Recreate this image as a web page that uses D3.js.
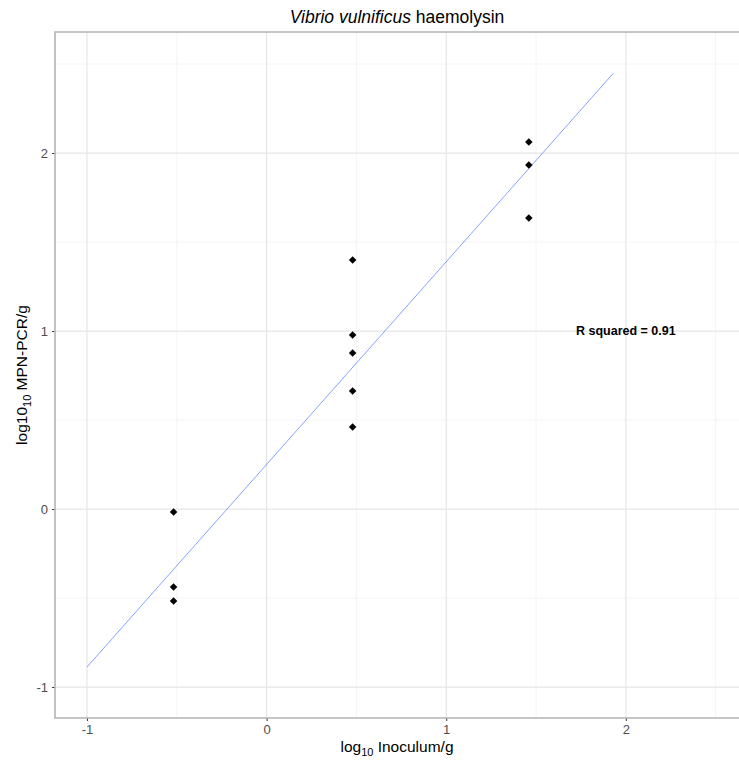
<!doctype html>
<html>
<head>
<meta charset="utf-8">
<title>Vibrio vulnificus haemolysin</title>
<script src="https://d3js.org/d3.v7.min.js"></script>
<style>
body { margin: 0; background: white; }
svg { display: block; font-family: "Liberation Sans", Arial, sans-serif; }
</style>
</head>
<body>
<div id="chart"></div>
<script>
// log10 inoculum per sample
var inoculum = [-0.518, -0.518, -0.518,
  0.479, 0.479, 0.479, 0.479, 0.479,
  1.46, 1.46, 1.46];
// log10 MPN-PCR per sample
var mpn = [-0.017, -0.438, -0.517,
  1.399, 0.978, 0.876, 0.663, 0.461,
  2.062, 1.933, 1.635];
// fitted line end points
var fitX = [-1, 1.931];
var fitY = [-0.888, 2.449];
var majorTicks = [-1, 0, 1, 2];
var minorTicks = [-0.5, 0.5, 1.5, 2.5];
var rsqLabel = "R squared = 0.91";

var W = 739, H = 760;
var margin = { top: 32, right: 0, bottom: 42, left: 55 };
var width = W - margin.left - margin.right,
    height = H - margin.top - margin.bottom;

var svg = d3.select("#chart").append("svg")
  .attr("width", W).attr("height", H);

var g = svg.append("g")
  .attr("transform", "translate(" + margin.left + "," + margin.top + ")");

var x = d3.scaleLinear().domain([-1.178, 2.63]).range([0, width]);
var y = d3.scaleLinear().domain([-1.174, 2.68]).range([height, 0]);

// minor grid
g.selectAll(".mx").data(minorTicks).enter().append("line")
  .attr("x1", d => x(d)).attr("x2", d => x(d))
  .attr("y1", 0).attr("y2", height)
  .attr("stroke", "#f4f4f4").attr("stroke-width", 1);
g.selectAll(".my").data(minorTicks).enter().append("line")
  .attr("y1", d => y(d)).attr("y2", d => y(d))
  .attr("x1", 0).attr("x2", width)
  .attr("stroke", "#f4f4f4").attr("stroke-width", 1);
// major grid
g.selectAll(".gx").data(majorTicks).enter().append("line")
  .attr("x1", d => x(d)).attr("x2", d => x(d))
  .attr("y1", 0).attr("y2", height)
  .attr("stroke", "#e6e6e6").attr("stroke-width", 1.2);
g.selectAll(".gy").data(majorTicks).enter().append("line")
  .attr("y1", d => y(d)).attr("y2", d => y(d))
  .attr("x1", 0).attr("x2", width)
  .attr("stroke", "#e6e6e6").attr("stroke-width", 1.2);

// axes (plain hyphen minus like the original)
var fmt = d => String(d);
var xAxis = g.append("g")
  .attr("transform", "translate(0," + height + ")")
  .call(d3.axisBottom(x).tickValues(majorTicks).tickSize(3).tickPadding(4).tickFormat(fmt));
var yAxis = g.append("g")
  .call(d3.axisLeft(y).tickValues(majorTicks).tickSize(3).tickPadding(4).tickFormat(fmt));
[xAxis, yAxis].forEach(function(a) {
  a.select(".domain").remove();
  a.selectAll(".tick line").attr("stroke", "#333333");
  a.selectAll(".tick text").attr("fill", "#4d4d4d")
    .style("font-size", "13px").style("font-family", "Liberation Sans, Arial, sans-serif");
});

// panel border (left, top, bottom)
g.append("path")
  .attr("d", "M" + (width + 2) + ",0H0V" + height + "H" + (width + 2))
  .attr("fill", "none").attr("stroke", "#b3b3b3").attr("stroke-width", 1.6);

// regression line
g.append("line")
  .attr("x1", x(fitX[0])).attr("y1", y(fitY[0]))
  .attr("x2", x(fitX[1])).attr("y2", y(fitY[1]))
  .attr("stroke", "#3366ff").attr("stroke-width", 0.7)
  .attr("stroke-opacity", 0.85);

// points (filled diamonds)
var diamond = d3.symbol().type(d3.symbolSquare).size(28);
g.selectAll(".pt").data(inoculum).enter().append("path")
  .attr("d", diamond)
  .attr("transform", (d, i) => "translate(" + x(d) + "," + y(mpn[i]) + ") rotate(45)")
  .attr("fill", "#000");

// R squared annotation
g.append("text")
  .attr("x", x(2)).attr("y", y(1)).attr("dy", "0.35em")
  .attr("text-anchor", "middle")
  .style("font-size", "12.5px").style("font-weight", "bold")
  .text(rsqLabel);

// title
var title = svg.append("text")
  .attr("x", margin.left + 342).attr("y", 23)
  .attr("text-anchor", "middle")
  .style("font-size", "17.5px");
title.append("tspan").style("font-style", "italic").text("Vibrio vulnificus");
title.append("tspan").text(" haemolysin");

// x label
var xl = svg.append("text")
  .attr("x", margin.left + 342).attr("y", 752)
  .attr("text-anchor", "middle")
  .style("font-size", "15.5px");
xl.append("tspan").text("log");
xl.append("tspan").attr("dy", 4).style("font-size", "11px").text("10");
xl.append("tspan").attr("dy", -4).text(" Inoculum/g");

// y label
var yl = svg.append("text")
  .attr("transform", "translate(27," + (margin.top + height / 2) + ") rotate(-90)")
  .attr("text-anchor", "middle")
  .style("font-size", "15.5px");
yl.append("tspan").text("log10");
yl.append("tspan").attr("dy", 4).style("font-size", "11px").text("10");
yl.append("tspan").attr("dy", -4).text(" MPN-PCR/g");
</script>
</body>
</html>
